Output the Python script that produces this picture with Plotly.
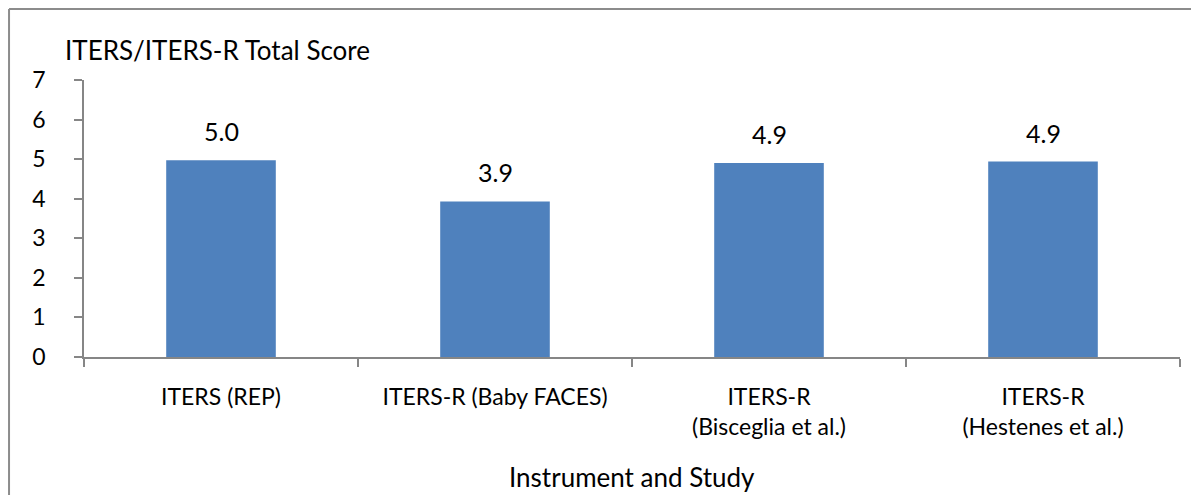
import plotly.graph_objects as go

categories = ["ITERS (REP)", "ITERS-R (Baby FACES)", "ITERS-R<br>(Bisceglia et al.)", "ITERS-R<br>(Hestenes et al.)"]
scores = [4.97, 3.93, 4.9, 4.94]
score_labels = ["5.0", "3.9", "4.9", "4.9"]
y_ticks = [0, 1, 2, 3, 4, 5, 6, 7]

FONT = "Lato"
AX = "#868686"

fig = go.Figure()
fig.add_trace(go.Bar(x=categories, y=scores, marker=dict(color="#4f81bd", line=dict(width=0)),
                     width=0.4, hoverinfo="skip"))

for c, v, t in zip(categories, scores, score_labels):
    fig.add_annotation(x=c, y=v, text=t, showarrow=False, yanchor="bottom", yshift=12,
                       font=dict(family=FONT, size=25, color="black"))

fig.add_annotation(xref="paper", yref="paper", x=-0.0192, y=1.108, xanchor="left", yanchor="middle",
                   text="ITERS/ITERS-R Total Score", showarrow=False,
                   font=dict(family=FONT, size=26, color="black"))
fig.add_annotation(xref="paper", yref="paper", x=0.5, y=-0.435, xanchor="center", yanchor="middle",
                   text="Instrument and Study", showarrow=False,
                   font=dict(family=FONT, size=26, color="black"))

# outer frame
fig.add_shape(type="line", xref="paper", yref="paper", x0=-0.0684, x1=-0.0684, y0=1.2566, y1=-0.6,
              line=dict(color="#8c8c8c", width=2))
fig.add_shape(type="line", xref="paper", yref="paper", x0=-0.0684, x1=1.03, y0=1.2566, y1=1.2566,
              line=dict(color="#8c8c8c", width=2))

fig.update_layout(
    width=1191, height=487,
    margin=dict(l=76, r=19, t=72, b=138.3),
    paper_bgcolor="white", plot_bgcolor="white",
    showlegend=False,
    font=dict(family=FONT, size=22, color="black"),
    xaxis=dict(range=[-0.5, 3.5], showline=True, linecolor=AX, linewidth=1.5,
               ticks="outside", tickson="boundaries", ticklen=8, tickcolor=AX, tickwidth=1.5,
               ticklabelstandoff=19,
               showgrid=False, tickfont=dict(family=FONT, size=23, color="black"), zeroline=False),
    yaxis=dict(range=[0, 7], tickvals=y_ticks, showline=True, linecolor=AX, linewidth=1.5,
               ticks="outside", ticklen=8, tickcolor=AX, tickwidth=1.5, showgrid=False,
               ticklabelstandoff=24,
               zeroline=False, tickfont=dict(family=FONT, size=23, color="black")),
)

fig.write_html("out.html")
